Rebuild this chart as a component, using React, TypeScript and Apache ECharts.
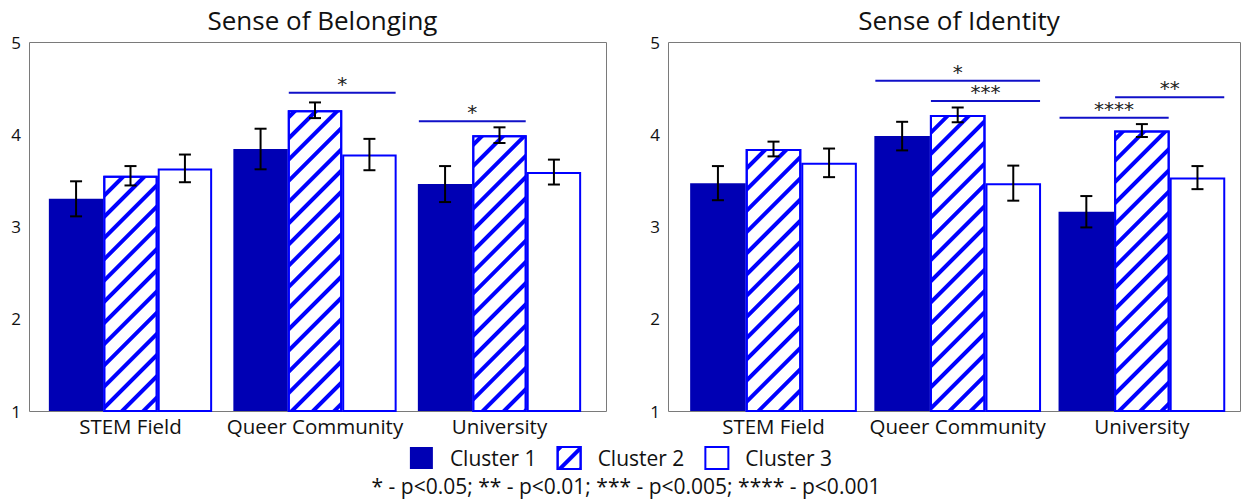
import React, { useEffect, useRef } from "react";
import * as echarts from "echarts";

const categories = ["STEM Field", "Queer Community", "University"];
const clusters = ["Cluster 1", "Cluster 2", "Cluster 3"];
const yMin = 1;
const yMax = 5;
const yStep = 1;

// Sense of Belonging: cluster means and error half-widths per category
const belongingC1 = [3.3, 3.84, 3.46];
const belongingC2 = [3.55, 4.26, 3.99];
const belongingC3 = [3.63, 3.78, 3.59];
const belongingErrC1 = [0.19, 0.22, 0.195];
const belongingErrC2 = [0.105, 0.085, 0.085];
const belongingErrC3 = [0.15, 0.17, 0.135];

// Sense of Identity
const identityC1 = [3.47, 3.98, 3.16];
const identityC2 = [3.84, 4.21, 4.04];
const identityC3 = [3.69, 3.47, 3.53];
const identityErrC1 = [0.185, 0.155, 0.17];
const identityErrC2 = [0.08, 0.08, 0.07];
const identityErrC3 = [0.155, 0.19, 0.125];

// Significance brackets: [category, first cluster, last cluster, height, stars]
const belongingSig: [number, number, number, number, string][] = [
  [1, 1, 2, 4.45, "*"],
  [2, 0, 1, 4.14, "*"],
];
const identitySig: [number, number, number, number, string][] = [
  [1, 0, 2, 4.58, "*"],
  [1, 1, 2, 4.36, "***"],
  [2, 0, 1, 4.18, "****"],
  [2, 1, 2, 4.4, "**"],
];

const footnote = "* - p<0.05; ** - p<0.01; *** - p<0.005; **** - p<0.001";

const FONT = "Open Sans";
const DARK = "#0000B4";
const BLUE = "#0000FF";
const INK = "#111111";
const FRAME = "#7a7a7a";

// Panel geometry: frame box and the category band region inside it
const panels = [
  { title: "Sense of Belonging", frameL: 29, frameR: 606, gridL: 38.25, gridR: 591.75, gap: 0.115 },
  { title: "Sense of Identity", frameL: 668, frameR: 1240, gridL: 681.4, gridR: 1234, gap: 0.095 },
];
const TOP = 42;
const BOTTOM = 411;
const W = 1242;
const H = 503;

const hatch = {
  symbol: "rect",
  symbolSize: 1,
  color: BLUE,
  dashArrayX: [1, 0],
  dashArrayY: [4, 11],
  rotation: -Math.PI / 4,
};

const clusterStyles = [
  { color: DARK, borderColor: DARK, borderWidth: 0 },
  { color: "#ffffff", borderColor: BLUE, borderWidth: 2, decal: hatch },
  { color: "#ffffff", borderColor: BLUE, borderWidth: 2 },
];

function errorRows(means: number[][], errs: number[][]) {
  const rows: number[][] = [];
  means.forEach((m, k) => {
    m.forEach((v, i) => {
      rows.push([i, k, v - errs[k][i], v + errs[k][i]]);
    });
  });
  return rows;
}

function makeErrorRender(gap: number) {
  return (params: any, api: any) => {
    const cat = api.value(0);
    const k = api.value(1);
    const band = api.size([1, 0])[0];
    const bw = (band * (1 - gap)) / 3;
    const lo = api.coord([cat, api.value(2)]);
    const hi = api.coord([cat, api.value(3)]);
    const x = lo[0] + (k - 1) * bw;
    const st = { stroke: "#000", lineWidth: 2 };
    const half = 6;
    return {
      type: "group",
      children: [
        { type: "line", shape: { x1: x, y1: lo[1], x2: x, y2: hi[1] }, style: st },
        { type: "line", shape: { x1: x - half, y1: hi[1], x2: x + half, y2: hi[1] }, style: st },
        { type: "line", shape: { x1: x - half, y1: lo[1], x2: x + half, y2: lo[1] }, style: st },
      ],
    };
  };
}

function makeSigRender(gap: number, sig: [number, number, number, number, string][]) {
  return (params: any, api: any) => {
    const row = sig[params.dataIndex];
    const band = api.size([1, 0])[0];
    const bw = (band * (1 - gap)) / 3;
    const c = api.coord([row[0], row[3]]);
    const x1 = c[0] - 1.5 * bw + row[1] * bw + 1;
    const x2 = c[0] - 1.5 * bw + (row[2] + 1) * bw - 1;
    return {
      type: "group",
      children: [
        { type: "line", shape: { x1, y1: c[1], x2, y2: c[1] }, style: { stroke: "#1010C8", lineWidth: 2 } },
        {
          type: "text",
          style: {
            text: row[4],
            x: (x1 + x2) / 2,
            y: c[1] + 1,
            textAlign: "center",
            textVerticalAlign: "bottom",
            fontSize: 20,
            fontFamily: "DejaVu Sans",
            fill: "#222",
          },
        },
      ],
    };
  };
}

export default function App() {
  const ref = useRef<HTMLDivElement>(null);

  useEffect(() => {
    if (!ref.current) return;
    const chart = echarts.init(ref.current, null, { renderer: "svg", width: W, height: H });

    const means = [
      [belongingC1, belongingC2, belongingC3],
      [identityC1, identityC2, identityC3],
    ];
    const errs = [
      [belongingErrC1, belongingErrC2, belongingErrC3],
      [identityErrC1, identityErrC2, identityErrC3],
    ];
    const sigs = [belongingSig, identitySig];

    const series: any[] = [];
    panels.forEach((p, pi) => {
      clusters.forEach((name, k) => {
        series.push({
          type: "bar",
          name,
          xAxisIndex: pi,
          yAxisIndex: pi,
          data: means[pi][k],
          barGap: "0%",
          barCategoryGap: `${p.gap * 100}%`,
          itemStyle: clusterStyles[k],
          emphasis: { disabled: true },
          z: 2,
        });
      });
      series.push({
        type: "custom",
        xAxisIndex: pi,
        yAxisIndex: pi,
        data: errorRows(means[pi], errs[pi]),
        encode: { x: 0, y: [2, 3] },
        renderItem: makeErrorRender(p.gap),
        z: 4,
        silent: true,
      });
      series.push({
        type: "custom",
        xAxisIndex: pi,
        yAxisIndex: pi,
        data: sigs[pi].map((r) => [r[0], r[3]]),
        encode: { x: 0, y: 1 },
        renderItem: makeSigRender(p.gap, sigs[pi]),
        z: 4,
        silent: true,
      });
    });

    chart.setOption({
      animation: false,
      textStyle: { fontFamily: FONT },
      title: [
        ...panels.map((p) => ({
          text: p.title,
          left: (p.frameL + p.frameR) / 2,
          top: 2,
          textAlign: "center",
          textStyle: { fontFamily: FONT, fontSize: 26, fontWeight: "normal", color: INK },
        })),
        {
          text: footnote,
          left: W / 2,
          top: 469,
          textAlign: "center",
          textStyle: { fontFamily: FONT, fontSize: 21, fontWeight: "normal", color: INK, lineHeight: 24 },
        },
      ],
      legend: {
        data: clusters,
        left: "center",
        top: 446,
        padding: 0,
        itemWidth: 23,
        itemHeight: 22,
        itemGap: 20,
        icon: "rect",
        selectedMode: false,
        textStyle: { fontFamily: FONT, fontSize: 21, color: INK, padding: [0, 0, 0, 12], lineHeight: 22 },
      },
      grid: panels.map((p) => ({
        left: p.gridL,
        width: p.gridR - p.gridL,
        top: TOP,
        height: BOTTOM - TOP,
      })),
      xAxis: panels.map((p, pi) => ({
        type: "category",
        gridIndex: pi,
        data: categories,
        axisLine: { show: false },
        axisTick: { show: false },
        axisLabel: { fontFamily: FONT, fontSize: 20.5, color: INK, margin: 4, interval: 0 },
      })),
      yAxis: panels.map((p, pi) => ({
        type: "value",
        gridIndex: pi,
        min: yMin,
        max: yMax,
        interval: yStep,
        offset: p.gridL - p.frameL,
        axisLine: { show: false },
        axisTick: { show: false },
        splitLine: { show: false },
        axisLabel: { fontFamily: FONT, fontSize: 17, color: INK, margin: 8 },
      })),
      graphic: panels.map((p) => ({
        type: "rect",
        shape: { x: p.frameL + 0.5, y: TOP + 0.5, width: p.frameR - p.frameL, height: BOTTOM - TOP },
        style: { fill: "none", stroke: FRAME, lineWidth: 1 },
        z: 1,
        silent: true,
      })),
      series,
    });

    return () => chart.dispose();
  }, []);

  return (
    <div
      ref={ref}
      style={{ position: "absolute", left: 0, top: 0, width: W, height: H, background: "#fff" }}
    />
  );
}
